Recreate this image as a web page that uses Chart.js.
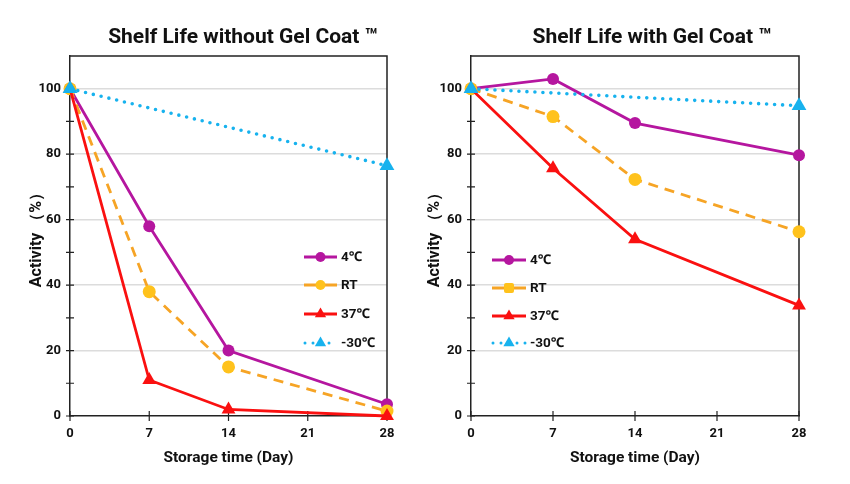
<!DOCTYPE html>
<html>
<head>
<meta charset="utf-8">
<script src="https://cdn.jsdelivr.net/npm/chart.js@4/dist/chart.umd.min.js"></script>
<style>
  html, body { margin: 0; padding: 0; background: #fff; }
  .wrap { display: flex; width: 850px; height: 484px; }
  .box { position: relative; width: 425px; height: 484px; }
</style>
</head>
<body>
<div class="wrap">
  <div class="box"><canvas id="chartWithout"></canvas></div>
  <div class="box"><canvas id="chartWith"></canvas></div>
</div>
<script>
// storage days
const days = [0, 7, 14, 28];
const freezerDays = [0, 28];
const seriesNames = ['4℃', 'RT', '37℃', '-30℃'];
const xTicks = [0, 7, 14, 21, 28];

// without Gel Coat (activity %)
const withoutCold = [100, 58, 20, 3.6];
const withoutRT = [100, 38, 15, 1.5];
const withoutHot = [100, 11, 2, 0];
const withoutFreezer = [100, 76.5];

// with Gel Coat (activity %)
const withCold = [100, 103, 89.5, 79.7];
const withRT = [100, 91.5, 72.3, 56.3];
const withHot = [100, 75.7, 54, 33.8];
const withFreezer = [100, 94.8];

const FONT = "Roboto, 'Noto Sans', 'DejaVu Sans', sans-serif";
const INK = '#111';

// line looks, same order as seriesNames
const looks = [
    { line: '#b5169f', point: '#b5169f', dash: [], width: 2.8, cap: 'butt', shape: 'circle', r: 6, order: 4 },
    { line: '#f6a425', point: '#ffc21c', dash: [10, 7], width: 2.8, cap: 'butt', shape: 'circle', r: 6.5, order: 3 },
    { line: '#fa1010', point: '#fa1010', dash: [], width: 2.8, cap: 'butt', shape: 'triangle', r: 8, order: 2 },
    { line: '#17b2ee', point: '#17b2ee', dash: [0, 8], width: 3.6, cap: 'round', shape: 'triangle', r: 8.5, order: 1 },
];

function drawMarker(ctx, shape, x, y, r, color) {
    ctx.save();
    ctx.fillStyle = color;
    ctx.beginPath();
    if (shape === 'triangle') {
        ctx.moveTo(x, y - r);
        ctx.lineTo(x + r * Math.sin(Math.PI / 3), y + r / 2);
        ctx.lineTo(x - r * Math.sin(Math.PI / 3), y + r / 2);
        ctx.closePath();
    } else if (shape === 'rect') {
        ctx.roundRect(x - r, y - r, r * 2, r * 2, 2);
    } else {
        ctx.arc(x, y, r, 0, Math.PI * 2);
    }
    ctx.fill();
    ctx.restore();
}

// plot frame + ticks that cross the axes
const framePlugin = {
    id: 'frame',
    beforeDatasetsDraw(chart) {
        const { ctx, chartArea: a, scales } = chart;
        ctx.save();
        ctx.strokeStyle = '#222';
        ctx.lineWidth = 1.5;
        ctx.beginPath();
        ctx.moveTo(a.left, a.top);
        ctx.lineTo(a.right, a.top);
        ctx.lineTo(a.right, a.bottom);
        ctx.stroke();
        ctx.lineWidth = 1.2;
        ctx.beginPath();
        scales.x.ticks.forEach(t => {
            const px = scales.x.getPixelForValue(t.value);
            ctx.moveTo(px, a.bottom - 5);
            ctx.lineTo(px, a.bottom + 5);
        });
        scales.y.ticks.forEach(t => {
            if (t.value > 100) return;
            const py = scales.y.getPixelForValue(t.value);
            ctx.moveTo(a.left - 4, py);
            ctx.lineTo(a.left + 4, py);
        });
        ctx.stroke();
        ctx.restore();
    }
};

// heading and legend drawn by hand where the original puts them
const decorPlugin = {
    id: 'decor',
    afterDatasetsDraw(chart, args, opts) {
        const { ctx } = chart;
        ctx.save();
        ctx.fillStyle = INK;
        ctx.font = `bold 21px ${FONT}`;
        ctx.textAlign = 'center';
        ctx.textBaseline = 'middle';
        ctx.fillText(opts.title, opts.titleX, 38);

        const lg = opts.legend;
        ctx.font = `bold 13.5px ${FONT}`;
        ctx.textAlign = 'left';
        chart.data.datasets.forEach((ds, i) => {
            const lk = looks[i];
            const y = lg.rows[i];
            const dotted = lk.cap === 'round';
            ctx.save();
            ctx.strokeStyle = lk.line;
            ctx.lineWidth = 3;
            ctx.lineCap = lk.cap;
            ctx.setLineDash(dotted ? [0, 8] : []);
            ctx.beginPath();
            ctx.moveTo(lg.x0 + (dotted ? 1 : 0), y);
            ctx.lineTo(lg.x1, y);
            ctx.stroke();
            ctx.restore();
            const shape = (lg.shapes && lg.shapes[i]) || lk.shape;
            drawMarker(ctx, shape, (lg.x0 + lg.x1) / 2, y, lk.shape === 'triangle' ? 6.5 : 5, lk.point);
            ctx.fillStyle = INK;
            ctx.fillText(ds.label, lg.x1 + 4, y + 1);
        });
        ctx.restore();
    }
};

function toPoints(xs, ys) {
    return xs.map((x, i) => ({ x, y: ys[i] }));
}

function makeChart(id, series, cfg) {
    const datasets = series.map((s, i) => {
        const lk = looks[i];
        return {
            label: seriesNames[i],
            data: toPoints(i === 3 ? freezerDays : days, s),
            borderColor: lk.line,
            backgroundColor: lk.point,
            borderWidth: lk.width,
            borderDash: lk.dash,
            borderCapStyle: lk.cap,
            pointStyle: lk.shape,
            pointRadius: lk.r,
            pointBackgroundColor: lk.point,
            pointBorderWidth: 0,
            pointHoverRadius: lk.r,
            tension: 0,
            clip: false,
            order: lk.order,
        };
    });

    return new Chart(document.getElementById(id), {
        type: 'line',
        data: { datasets },
        options: {
            responsive: true,
            maintainAspectRatio: false,
            animation: false,
            layout: { padding: cfg.padding },
            plugins: {
                legend: { display: false },
                tooltip: { enabled: false },
                decor: { title: cfg.title, titleX: cfg.titleX, legend: cfg.legend },
            },
            scales: {
                x: {
                    type: 'linear',
                    min: 0,
                    max: 28,
                    afterBuildTicks: s => { s.ticks = xTicks.map(v => ({ value: v })); },
                    ticks: { font: { family: FONT, size: 13, weight: 'bold' }, color: INK, padding: 10, maxRotation: 0 },
                    grid: { color: 'transparent', drawTicks: false },
                    border: { color: '#222', width: 1.5 },
                    title: {
                        display: true,
                        text: 'Storage time (Day)',
                        color: INK,
                        font: { family: FONT, size: 15.5, weight: 'bold' },
                        padding: { top: 4, bottom: 9 },
                    },
                    afterFit: s => { s.height = 60; },
                },
                y: {
                    min: 0,
                    max: 110,
                    ticks: {
                        stepSize: 10,
                        font: { family: FONT, size: 13, weight: 'bold' },
                        color: INK,
                        padding: 9,
                        callback: v => (v % 20 === 0 && v <= 100 ? v : ''),
                    },
                    grid: {
                        drawTicks: false,
                        lineWidth: 1.5,
                        color: c => (c.tick && c.tick.value % 20 === 0 && c.tick.value > 0 && c.tick.value <= 100 ? '#dcdcdc' : 'transparent'),
                    },
                    border: { color: '#222', width: 1.5 },
                    title: {
                        display: true,
                        text: 'Activity （%）',
                        color: INK,
                        font: { family: FONT, size: 16, weight: 'bold' },
                        padding: { top: cfg.yTitlePad, bottom: 0 },
                    },
                    afterFit: s => { s.width = cfg.yWidth; },
                },
            },
        },
        plugins: [framePlugin, decorPlugin],
    });
}

makeChart('chartWithout', [withoutCold, withoutRT, withoutHot, withoutFreezer], {
    title: 'Shelf Life without Gel Coat ™',
    titleX: 243,
    padding: { left: 20, right: 38, top: 56, bottom: 8 },
    yWidth: 50,
    yTitlePad: 7,
    legend: { x0: 304, x1: 337, rows: [257, 285, 314, 343] },
});

makeChart('chartWith', [withCold, withRT, withHot, withFreezer], {
    title: 'Shelf Life with Gel Coat ™',
    titleX: 227,
    padding: { left: 0, right: 51, top: 56, bottom: 8 },
    yWidth: 46,
    yTitlePad: 0,
    legend: { x0: 67, x1: 101, rows: [260, 288, 316, 343], shapes: [null, 'rect', null, null] },
});
</script>
</body>
</html>
